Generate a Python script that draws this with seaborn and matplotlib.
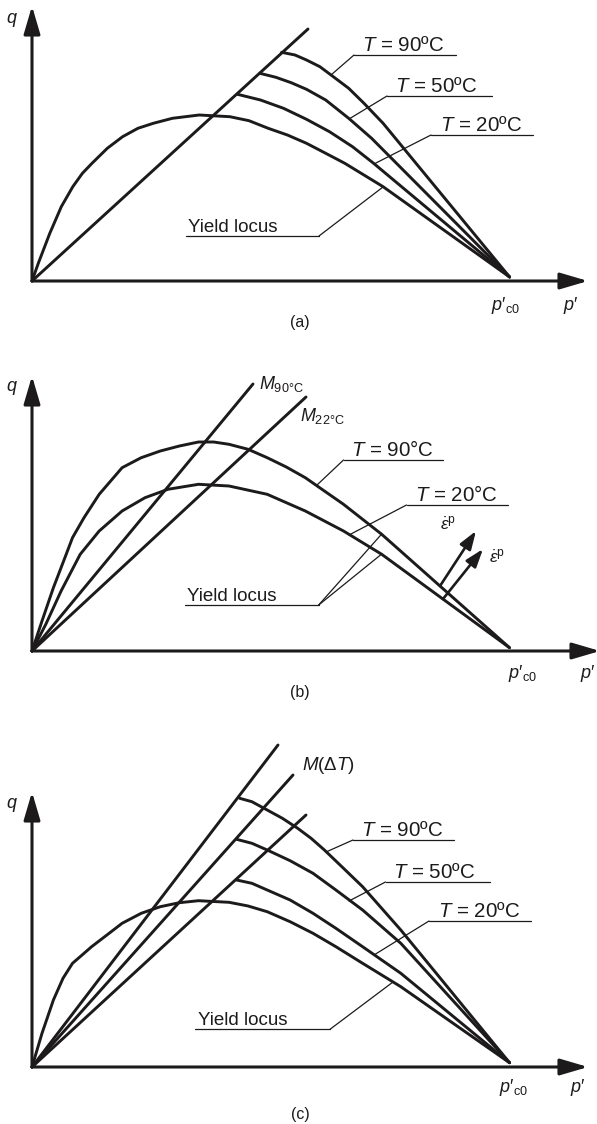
import numpy as np
import matplotlib
matplotlib.use("Agg")
import matplotlib.pyplot as plt
import seaborn as sns

sns.set_theme(style="white")
plt.rcParams["font.family"] = ["Liberation Sans", "DejaVu Sans"]
plt.rcParams["mathtext.fontset"] = "custom"
plt.rcParams["mathtext.rm"] = "Liberation Sans"
plt.rcParams["mathtext.it"] = "Liberation Sans:italic"
plt.rcParams["mathtext.bf"] = "Liberation Sans:bold"

INK = "#1c1a1b"
W, H = 597, 1124

# ---------------- panel (a): one critical state line, growing yield loci ----------------
a_csl_p = [0, 276]
a_csl_q = [0, 252]
a_yield_p = [0, 6.3, 17.8, 29.3, 40.8, 50.4, 60, 75.3, 90.6, 105.9, 121.3, 140.4, 167.2,
             197.9, 217, 236.2, 255.4, 274.5, 293.7, 312.8, 351.1, 477.6]
a_yield_q = [0, 17.7, 47.7, 74.3, 94.3, 107.7, 117.7, 132.7, 144.3, 152.7, 157.7, 162.7, 166,
             164.3, 160.3, 152.7, 146, 137.7, 127.7, 117.7, 94.3, 4]
a_t20_p = [205.5, 228.5, 251.5, 274.5, 297.5, 320.5, 341.6, 477.6]
a_t20_q = [186.7, 181, 172.7, 161.7, 149.3, 134.3, 117.7, 4]
a_t50_p = [227.8, 243.9, 259.2, 274.5, 293.7, 316.7, 339.6, 477.6]
a_t50_q = [207.7, 203.7, 198.3, 191.7, 181, 162.7, 142.7, 4]
a_t90_p = [249.6, 263, 274.5, 287.9, 301.3, 316.7, 332, 351.1, 477.6]
a_t90_q = [228.7, 226, 221, 214.3, 204.3, 192.7, 177.7, 157.7, 4]

# ---------------- panel (b): temperature dependent M and loci ----------------
b_m90_p = [0, 221]
b_m90_q = [0, 267]
b_m22_p = [0, 274]
b_m22_q = [0, 254]
b_t90_p = [0, 10, 21.4, 32.9, 40.5, 52, 67.2, 90.1, 109.2, 128.3, 147.4, 166.5, 181.7,
           197, 216.1, 235.2, 254.3, 273.3, 292.4, 311.5, 349.7, 477.5]
b_t90_q = [0, 30, 63.3, 93.3, 113.3, 133.3, 156.7, 183.3, 193.3, 200, 205, 209, 209,
           206.7, 201.7, 193.3, 184, 173.3, 160, 146.7, 116.7, 3.3]
b_t20_p = [0, 13.8, 29.1, 48.2, 67.2, 90.1, 113, 135.9, 166.5, 197, 235.2, 273.3, 311.5,
           349.7, 477.5]
b_t20_q = [0, 26.7, 60, 96.7, 120, 140, 153.3, 161.7, 166.7, 165, 156.7, 140, 120,
           96.7, 3.3]
b_flow_tail_p = [408, 411]
b_flow_tail_q = [65, 52]
b_flow_tip_p = [444, 451]
b_flow_tip_q = [120, 102]

# ---------------- panel (c): M(dT) lines and loci ----------------
c_m_end_p = [246, 261, 274]
c_m_end_q = [322, 292, 252]
c_yield_p = [0, 10, 21.4, 31, 40.5, 50.1, 59.6, 74.9, 90.1, 109.2, 128.3, 147.4, 166.5,
             197, 216.1, 235.2, 258.1, 281, 303.9, 330.6, 368.8, 477.5]
c_yield_q = [0, 33.7, 67, 88.7, 103.7, 112, 120.3, 132, 143.7, 153.7, 160.3, 164.3, 166.3,
             164.7, 161, 155.3, 145.3, 133.7, 120.3, 103.7, 80.3, 4.3]
c_t20_p = [204.6, 219.9, 235.2, 258.1, 281, 303.9, 330.6, 368.8, 477.5]
c_t20_q = [187, 183.7, 177, 167, 153.7, 138.7, 120.3, 93.7, 4.3]
c_t50_p = [204.6, 219.9, 235.2, 258.1, 281, 303.9, 330.6, 368.8, 477.5]
c_t50_q = [227.7, 223.7, 217, 206.3, 193.7, 177, 157, 123.7, 4.3]
c_t90_p = [207.7, 219.9, 235.2, 250.4, 265.7, 279.1, 292.4, 311.5, 330.6, 368.8, 477.5]
c_t90_q = [268.7, 265.3, 257, 248.7, 238.7, 228.7, 217, 198.7, 180.3, 137, 4.3]

LABELS_ABC = ["(a)", "(b)", "(c)"]
T_ORD = ["$T$ = 90ºC", "$T$ = 50ºC", "$T$ = 20ºC"]
T_DEG = ["$T$ = 90°C", "$T$ = 20°C"]


def panel(top, bottom, oy):
    ax = fig.add_axes([0, 1 - bottom / H, 1, (bottom - top) / H])
    ax.set_xlim(-32, W - 32)
    ax.set_ylim(oy - bottom, oy - top)
    ax.axis("off")
    return ax


def curve(ax, p, q, lw=2.1):
    sns.lineplot(x=np.asarray(p, float), y=np.asarray(q, float), sort=False,
                 estimator=None, ax=ax, color=INK, lw=lw, legend=False,
                 solid_joinstyle="round", solid_capstyle="round")


def arrow(ax, start, tip, lw, hl, hw):
    ax.annotate("", xy=tip, xytext=start, annotation_clip=False,
                arrowprops=dict(arrowstyle=f"-|>,head_length={hl},head_width={hw}",
                                mutation_scale=10, lw=lw, color=INK,
                                shrinkA=0, shrinkB=0))


def axes_frame(ax, xtip, qlab_q, pc_p, pp_p, lab_q):
    arrow(ax, (0, 0), (xtip, 0), 2.2, 1.7, 0.5)
    arrow(ax, (0, 0), (0, 275), 2.2, 1.7, 0.5)
    ax.text(-20, qlab_q, "$q$", ha="center", va="center", fontsize=13, color=INK)
    ax.text(pc_p, lab_q, "$p′_{\\mathrm{c0}}$", ha="center", va="center",
            fontsize=13, color=INK)
    ax.text(pp_p, lab_q, "$p′$", ha="center", va="center", fontsize=13, color=INK)


def tag(ax, text, u0, u1, uq, lead, tx, fs=14.8):
    ax.plot([u0, u1], [uq, uq], color=INK, lw=0.9)
    for end in lead:
        ax.plot([u0 if end[0] < u0 else u1, end[0]], [uq, end[1]], color=INK, lw=0.9)
    ax.text(tx, uq + 4, text, ha="left", va="baseline", fontsize=fs, color=INK)


fig = plt.figure(figsize=(W / 100, H / 100), dpi=100)

# (a)
ax = panel(0, 345, 281)
axes_frame(ax, 556, 261, 473, 539, -24)
curve(ax, a_csl_p, a_csl_q)
curve(ax, a_yield_p, a_yield_q)
curve(ax, a_t20_p, a_t20_q)
curve(ax, a_t50_p, a_t50_q)
curve(ax, a_t90_p, a_t90_q)
tag(ax, T_ORD[0], 322, 424, 226, [(299, 206)], 330)
tag(ax, T_ORD[1], 355, 460, 185, [(317, 162)], 363)
tag(ax, T_ORD[2], 399, 501, 146, [(342, 117)], 408)
tag(ax, "Yield locus", 154, 287, 45, [(351, 94)], 156, fs=13.5)
ax.text(268, -42, LABELS_ABC[0], ha="center", va="center", fontsize=11.5, color=INK)

# (b)
ax = panel(345, 715, 651)
axes_frame(ax, 568, 263, 490, 556, -22)
curve(ax, b_m90_p, b_m90_q)
curve(ax, b_m22_p, b_m22_q)
curve(ax, b_t90_p, b_t90_q)
curve(ax, b_t20_p, b_t20_q)
ax.text(227, 262, r"$M_{\mathrm{90°C}}$", ha="left", va="baseline", fontsize=13, color=INK)
ax.text(268, 230, r"$M_{\mathrm{22°C}}$", ha="left", va="baseline", fontsize=13, color=INK)
tag(ax, T_DEG[0], 311.5, 410.7, 191, [(285, 166)], 319)
tag(ax, T_DEG[1], 374.5, 475.6, 146, [(317, 116)], 383)
tag(ax, "Yield locus", 153, 286.7, 46, [(349.7, 117), (349.7, 97)], 155, fs=13.5)
for i in range(2):
    arrow(ax, (b_flow_tail_p[i], b_flow_tail_q[i]), (b_flow_tip_p[i], b_flow_tip_q[i]),
          1.9, 1.1, 0.38)
ax.text(416, 128, r"$\dot{\varepsilon}^{\mathrm{p}}$", ha="center", va="center",
        fontsize=12.5, color=INK)
ax.text(465, 95, r"$\dot{\varepsilon}^{\mathrm{p}}$", ha="center", va="center",
        fontsize=12.5, color=INK)
ax.text(268, -41, LABELS_ABC[1], ha="center", va="center", fontsize=11.5, color=INK)

# (c)
ax = panel(715, 1124, 1067)
axes_frame(ax, 556, 262, 481, 546, -20)
for ep, eq in zip(c_m_end_p, c_m_end_q):
    curve(ax, [0, ep], [0, eq])
curve(ax, c_yield_p, c_yield_q)
curve(ax, c_t20_p, c_t20_q)
curve(ax, c_t50_p, c_t50_q)
curve(ax, c_t90_p, c_t90_q)
ax.text(270, 302, r"$M(\Delta T)$", ha="left", va="center", fontsize=13.5, color=INK)
tag(ax, T_ORD[0], 321, 422, 227, [(294, 215)], 329)
tag(ax, T_ORD[1], 353.5, 457.7, 185, [(317, 166)], 361)
tag(ax, T_ORD[2], 397, 498.5, 146, [(342, 112)], 406)
tag(ax, "Yield locus", 163.4, 298, 37.7, [(361, 85)], 165.7, fs=13.5)
ax.text(268, -48, LABELS_ABC[2], ha="center", va="center", fontsize=11.5, color=INK)

fig.savefig("out.png", dpi=100, facecolor="white")
